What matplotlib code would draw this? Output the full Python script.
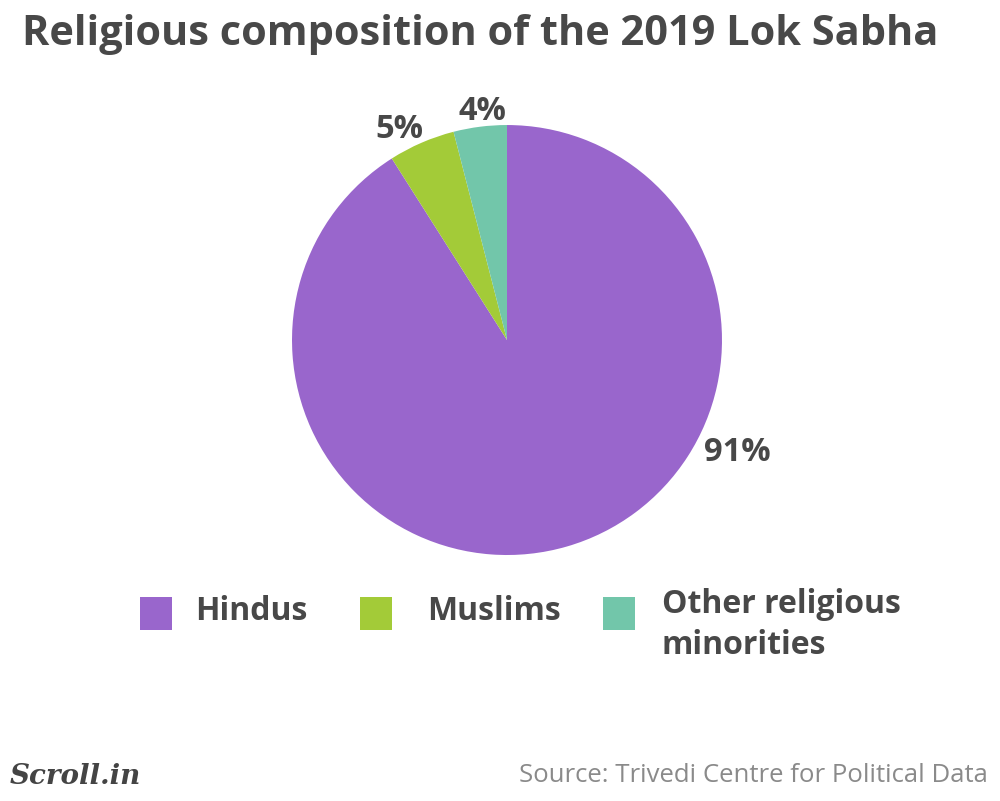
import numpy as np
import matplotlib.pyplot as plt
from matplotlib.patches import Rectangle

# data
categories = ['Hindus', 'Muslims', 'Other religious\nminorities']
shares = [91, 5, 4]
share_labels = ['91%', '5%', '4%']
colors = ['#9966cc', '#a3cb38', '#72c6aa']

TEXT = '#484848'
plt.rcParams['font.family'] = ['Open Sans', 'DejaVu Sans']

fig = plt.figure(figsize=(10, 8.01), dpi=100)
fig.patch.set_facecolor('white')

# title
fig.text(0.022, 0.957, 'Religious composition of the 2019 Lok Sabha',
         fontsize=29.9, fontweight='bold', color=TEXT, va='center', ha='left')

# pie axes: center (507, 340) px, radius 215 px
ax = fig.add_axes([0.292, 0.3071, 0.43, 0.5368])
wedges, _ = ax.pie(shares, colors=colors, startangle=90, counterclock=False,
                   radius=1.0, wedgeprops=dict(linewidth=0))
ax.set_xlim(-1, 1)
ax.set_ylim(-1, 1)
ax.set_aspect('equal')
ax.axis('off')

# percentage labels (angle in degrees, distance in radii)
label_pos = [(-26, 1.19), (117, 1.10), (96.2, 1.07)]
for i, w in enumerate(wedges):
    ang, dist = label_pos[i]
    x = dist * np.cos(np.radians(ang))
    y = dist * np.sin(np.radians(ang))
    ax.text(x, y, share_labels[i], fontsize=23.5, fontweight='bold', color=TEXT,
            ha='center', va='center', clip_on=False)

# legend
box_x = [140, 360, 603]
text_x = [195, 427, 662]
for i, cat in enumerate(categories):
    fig.patches.append(Rectangle((box_x[i] / 1000, 1 - 630 / 801), 32 / 1000, 33 / 801,
                                 transform=fig.transFigure, facecolor=colors[i],
                                 edgecolor='none'))
    if '\n' in cat:
        fig.text(text_x[i] / 1000, 1 - 588 / 801, cat, fontsize=23, fontweight='bold',
                 color=TEXT, ha='left', va='top', linespacing=1.3)
    else:
        fig.text(text_x[i] / 1000, 1 - 611 / 801, cat, fontsize=23, fontweight='bold',
                 color=TEXT, ha='left', va='center')

# footer
fig.text(0.010, 1 - 776 / 801, 'Scroll.in', family='DejaVu Serif', style='italic',
         fontweight='bold', fontsize=20, color='#444444', ha='left', va='center')
fig.text(0.988, 1 - 776 / 801, 'Source: Trivedi Centre for Political Data',
         fontsize=18.5, color='#8a8a8a', ha='right', va='center')

fig.savefig('out.png', dpi=100, facecolor='white')
